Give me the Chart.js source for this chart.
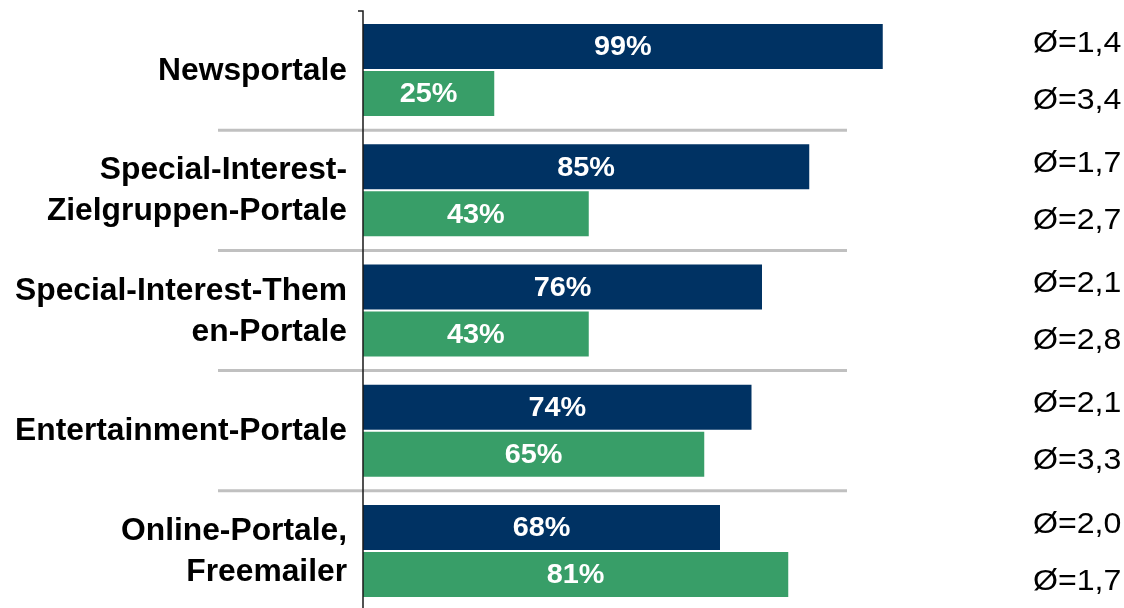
<!DOCTYPE html>
<html>
<head>
<meta charset="utf-8">
<script src="https://cdn.jsdelivr.net/npm/chart.js@4/dist/chart.umd.min.js"></script>
<style>
  html, body { margin: 0; padding: 0; background: #ffffff; overflow: hidden; }
  #wrap { position: relative; width: 1124px; height: 612px; }
</style>
</head>
<body>
<div id="wrap"><canvas id="chart"></canvas></div>
<script>
// Portal categories (label lines)
const categories = [
  ['Newsportale'],
  ['Special-Interest-', 'Zielgruppen-Portale'],
  ['Special-Interest-Them', 'en-Portale'],
  ['Entertainment-Portale'],
  ['Online-Portale,', 'Freemailer']
];
// Share in percent per series
const seriesA = [99, 85, 76, 74, 68];
const seriesB = [25, 43, 43, 65, 81];
// Averages shown on the right
const avgA = ['1,4', '1,7', '2,1', '2,1', '2,0'];
const avgB = ['3,4', '2,7', '2,8', '3,3', '1,7'];

const NAVY = '#003263';
const GREEN = '#389e68';
const FONT = '"Liberation Sans", Arial, Helvetica, sans-serif';

// text drawn with a slight horizontal stretch, anchored at x per textAlign
function stretchedText(ctx, text, x, y, sx) {
  ctx.save();
  ctx.translate(x, y);
  ctx.scale(sx, 1);
  ctx.fillText(text, 0, 0);
  ctx.restore();
}

const decorations = {
  id: 'decorations',
  beforeDatasetsDraw(chart) {
    const { ctx, scales } = chart;
    const y = scales.y;
    ctx.save();
    // separators between category groups
    ctx.strokeStyle = '#c0c0c0';
    ctx.lineWidth = 3;
    for (let i = 1; i < categories.length; i++) {
      const yy = (y.getPixelForValue(i - 1) + y.getPixelForValue(i)) / 2;
      ctx.beginPath();
      ctx.moveTo(218, yy);
      ctx.lineTo(847, yy);
      ctx.stroke();
    }
    ctx.restore();
  },
  afterDatasetsDraw(chart) {
    const { ctx, chartArea, scales } = chart;
    const y = scales.y;
    ctx.save();
    // vertical axis line with small top tick
    ctx.strokeStyle = '#1a1a1a';
    ctx.lineWidth = 1.5;
    ctx.beginPath();
    ctx.moveTo(358, chartArea.top + 1);
    ctx.lineTo(chartArea.left, chartArea.top + 1);
    ctx.lineTo(chartArea.left, chartArea.bottom + 5);
    ctx.stroke();

    // category labels
    ctx.fillStyle = '#000000';
    ctx.font = 'bold 31px ' + FONT;
    ctx.textAlign = 'right';
    ctx.textBaseline = 'middle';
    const lineH = 41;
    categories.forEach((lines, i) => {
      const cy = y.getPixelForValue(i) + 1;
      const start = cy - (lines.length - 1) * lineH / 2;
      lines.forEach((t, k) => stretchedText(ctx, t, 347, start + k * lineH, 1.025));
    });

    // value labels inside bars
    ctx.fillStyle = '#ffffff';
    ctx.font = 'bold 28px ' + FONT;
    ctx.textAlign = 'center';
    chart.data.datasets.forEach((ds, di) => {
      chart.getDatasetMeta(di).data.forEach((bar, i) => {
        stretchedText(ctx, ds.data[i] + '%', (bar.x + bar.base) / 2, bar.y + 1, 1.03);
      });
    });

    // averages on the right
    ctx.fillStyle = '#000000';
    ctx.font = '30px ' + FONT;
    ctx.textAlign = 'left';
    const metaA = chart.getDatasetMeta(0).data;
    const metaB = chart.getDatasetMeta(1).data;
    avgA.forEach((v, i) => stretchedText(ctx, '\u00D8=' + v, 1033, metaA[i].y - 3, 1.07));
    avgB.forEach((v, i) => stretchedText(ctx, '\u00D8=' + v, 1033, metaB[i].y + 7, 1.07));
    ctx.restore();
  }
};

new Chart(document.getElementById('chart'), {
  type: 'bar',
  data: {
    labels: categories.map(l => l.join(' ')),
    datasets: [
      { data: seriesA, backgroundColor: NAVY, categoryPercentage: 0.782, barPercentage: 0.957 },
      { data: seriesB, backgroundColor: GREEN, categoryPercentage: 0.782, barPercentage: 0.957 }
    ]
  },
  options: {
    indexAxis: 'y',
    responsive: true,
    maintainAspectRatio: false,
    animation: false,
    layout: { padding: { left: 363, right: 236, top: 10, bottom: 1 } },
    scales: {
      x: { display: false, min: 0, max: 100 },
      y: { display: false }
    },
    plugins: { legend: { display: false }, tooltip: { enabled: false } }
  },
  plugins: [decorations]
});
</script>
</body>
</html>
